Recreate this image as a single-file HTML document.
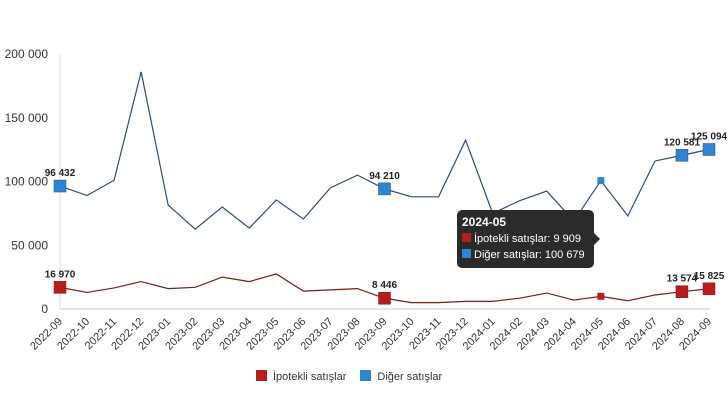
<!DOCTYPE html>
<html><head><meta charset="utf-8"><style>
body{margin:0;background:#fff;font-family:"Liberation Sans",sans-serif}
svg text{font-family:"Liberation Sans",sans-serif}
</style></head><body>
<svg id="c" width="728" height="410"></svg>
<script>
const categories=["2022-09","2022-10","2022-11","2022-12","2023-01","2023-02","2023-03","2023-04","2023-05","2023-06","2023-07","2023-08","2023-09","2023-10","2023-11","2023-12","2024-01","2024-02","2024-03","2024-04","2024-05","2024-06","2024-07","2024-08","2024-09"];
const mortgageSales=[16970,13000,16500,21500,16000,17000,25000,21500,27500,14000,15000,16000,8446,5000,5000,6000,6000,8500,12500,7000,9909,6500,11000,13574,15825];
const otherSales=[96432,89000,101000,186000,81500,62700,80000,63500,85500,70600,95000,105000,94210,88000,88000,132500,75000,85000,92500,69000,100679,73000,116000,120581,125094];
const yTicks=[0,50000,100000,150000,200000];
const labeledIdx=[0,12,23,24];
const NS="http://www.w3.org/2000/svg";
const svg=document.getElementById('c');
const x=i=>60+i*(649/24);
const y=v=>309-v*255/200000;
const fmt=v=>String(v).replace(/\B(?=(\d{3})+(?!\d))/g,' ');
function mk(t,a,p){const e=document.createElementNS(NS,t);for(const k in a)e.setAttribute(k,a[k]);(p||svg).appendChild(e);return e;}
let e=mk('line',{x1:60,y1:54,x2:60,y2:309,stroke:'#ddd'});


e=mk('line',{x1:60,y1:309,x2:710,y2:309,stroke:'#ccc'});


yTicks.forEach(v=>{const t=mk('text',{x:48,y:y(v)+4,'text-anchor':'end','font-size':12,fill:'#333'});t.textContent=fmt(v);

});
categories.forEach((c,i)=>{const t=mk('text',{x:x(i)+3,y:322,'text-anchor':'end','font-size':11,fill:'#333',transform:`rotate(-45 ${x(i)+3} 322)`});t.textContent=c;

});
function series(vals,color,fill,name){
 const p=mk('polyline',{points:vals.map((v,i)=>x(i)+','+y(v)).join(' '),fill:'none',stroke:color,'stroke-width':1.2});
 
 
 labeledIdx.forEach(i=>{const r=mk('rect',{x:x(i)-6,y:y(vals[i])-6,width:12,height:12,fill:fill,stroke:color,'stroke-width':0.5});
 
 
 const t=mk('text',{x:x(i),y:y(vals[i])-10,'text-anchor':'middle','font-size':10,'font-weight':'bold',fill:'#222'});t.textContent=fmt(vals[i]);
 
 });
 const r=mk('rect',{x:x(20)-3.5,y:y(vals[20])-3.5,width:7,height:7,fill:fill});
 
 
}
series(otherSales,'#2f4b6e','#2f86d0','other-sales');
series(mortgageSales,'#7a1a1a','#b81c1c','mortgage-sales');
</script>
<div style="position:absolute;left:457px;top:210px;width:137px;height:58px;background:#2b2b2b;border-radius:5px;color:#fff;font-size:11px;box-sizing:border-box;padding:4px 5px;line-height:16.5px;white-space:nowrap">
<div style="position:absolute;right:-6px;top:23px;border:6px solid transparent;border-left-color:#2b2b2b;border-right:0"></div>
<div style="font-weight:bold;font-size:12px">2024-05</div>
<div><span style="display:inline-block;width:9px;height:9px;background:#b81c1c;margin-right:3px"></span>İpotekli satışlar: 9 909</div>
<div><span style="display:inline-block;width:9px;height:9px;background:#2f86d0;margin-right:3px"></span>Diğer satışlar: 100 679</div>
</div>
<div style="position:absolute;left:256px;top:370px;font-size:11px;color:#333;display:flex;gap:14px;align-items:center">
<span><span style="display:inline-block;width:11px;height:11px;background:#b81c1c;vertical-align:-1px;margin-right:6px"></span>İpotekli satışlar</span>
<span><span style="display:inline-block;width:11px;height:11px;background:#2f86d0;vertical-align:-1px;margin-right:6px"></span>Diğer satışlar</span>
</div>
</body></html>
